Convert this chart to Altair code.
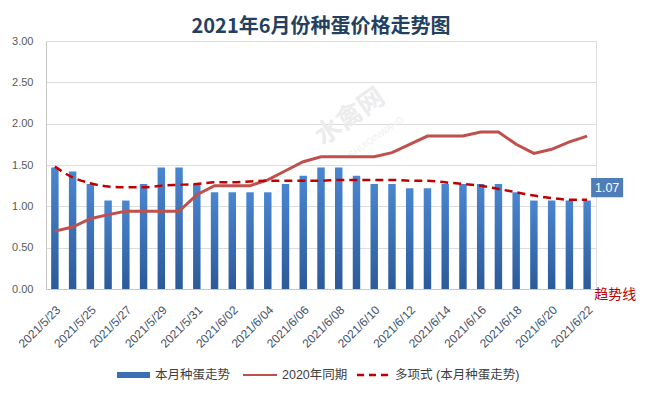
import altair as alt
import pandas as pd

dates = ["2021/5/23", "2021/5/24", "2021/5/25", "2021/5/26", "2021/5/27", "2021/5/28",
         "2021/5/29", "2021/5/30", "2021/5/31", "2021/6/01", "2021/6/02", "2021/6/03",
         "2021/6/04", "2021/6/05", "2021/6/06", "2021/6/07", "2021/6/08", "2021/6/09",
         "2021/6/10", "2021/6/11", "2021/6/12", "2021/6/13", "2021/6/14", "2021/6/15",
         "2021/6/16", "2021/6/17", "2021/6/18", "2021/6/19", "2021/6/20", "2021/6/21",
         "2021/6/22"]
price_2021 = [1.47, 1.42, 1.27, 1.07, 1.07, 1.27, 1.47, 1.47, 1.27, 1.17, 1.17, 1.17,
              1.17, 1.27, 1.37, 1.47, 1.47, 1.37, 1.27, 1.27, 1.22, 1.22, 1.27, 1.27,
              1.27, 1.27, 1.17, 1.07, 1.07, 1.07, 1.07]
price_2020 = [0.70, 0.75, 0.85, 0.90, 0.94, 0.94, 0.94, 0.94, 1.14, 1.25, 1.25, 1.25,
              1.32, 1.43, 1.54, 1.60, 1.60, 1.60, 1.60, 1.65, 1.75, 1.85, 1.85, 1.85,
              1.90, 1.90, 1.75, 1.64, 1.69, 1.78, 1.85]
trend = [1.48, 1.35, 1.28, 1.24, 1.23, 1.23, 1.25, 1.26, 1.27, 1.29, 1.29, 1.30,
         1.31, 1.31, 1.31, 1.31, 1.32, 1.32, 1.32, 1.32, 1.31, 1.31, 1.29, 1.27,
         1.25, 1.21, 1.17, 1.13, 1.10, 1.08, 1.08]
label_dates = dates[::2]
y_ticks = [0, 0.5, 1.0, 1.5, 2.0, 2.5, 3.0]
legend_names = ["本月种蛋走势", "2020年同期", "多项式 (本月种蛋走势)"]
title_text = "2021年6月份种蛋价格走势图"

df = pd.DataFrame({"date": dates, "price": price_2021, "last": price_2020, "trend": trend})
one = pd.DataFrame({"k": [0]})

LATIN = "Liberation Sans, Noto Sans CJK SC"
CJK = "Noto Sans CJK SC"

x = alt.X("date:N", sort=dates,
          scale=alt.Scale(paddingInner=0.58, paddingOuter=0.29),
          axis=alt.Axis(values=label_dates, labelAngle=-45, title=None, ticks=False,
                        labelPadding=15, labelFontSize=12, labelFont=LATIN,
                        labelColor="#44546a", domainColor="#c8c8c8", grid=False))
yscale = alt.Scale(domain=[0, 3])
yaxis = alt.Axis(values=y_ticks, format=".2f", title=None, ticks=False, labelPadding=13,
                 labelFontSize=11, labelFont=LATIN, labelColor="#595959",
                 domainColor="#c8c8c8", gridColor="#dcdcdc", gridWidth=1)

base = alt.Chart(df)

bars = base.mark_bar(
    color=alt.Gradient(gradient="linear",
                       stops=[alt.GradientStop(color="#4a86d0", offset=0),
                              alt.GradientStop(color="#2c5a9a", offset=1)],
                       x1=0, x2=0, y1=0, y2=1)
).encode(x=x, y=alt.Y("price:Q", scale=yscale, axis=yaxis))

line2020 = base.mark_line(color="#c0504d", strokeWidth=3).encode(
    x=x, y=alt.Y("last:Q", scale=yscale))

trendline = base.mark_line(color="#c00000", strokeWidth=2.5, strokeDash=[8, 5],
                           interpolate="monotone").encode(
    x=x, y=alt.Y("trend:Q", scale=yscale))

last = base.transform_filter(alt.datum.date == dates[-1])
box = last.mark_point(shape="M-1,-0.6H1V0.6H-1Z", size=1024, filled=True, opacity=1,
                      color="#4f7db8", xOffset=20, yOffset=-13).encode(
    x=x, y=alt.Y("price:Q", scale=yscale))
box_text = last.mark_text(color="white", fontSize=12.5, font=LATIN, dx=20, dy=-13,
                          align="center", baseline="middle").encode(
    x=x, y=alt.Y("price:Q", scale=yscale), text=alt.Text("price:Q", format=".2f"))
trend_lbl = last.mark_text(color="#c00000", fontSize=14, font=CJK, dx=49, dy=6,
                           align="right", baseline="middle").encode(
    x=x, y=alt.datum(0, scale=yscale), text=alt.value("趋势线"))

# watermark
wm1 = alt.Chart(one).mark_text(text="水禽网", fontSize=26, font=CJK, angle=325,
                               color="#ececec", fontWeight="bold").encode(
    x=alt.value(304), y=alt.value(76))
wm2 = alt.Chart(one).mark_text(text="SHUIQINWANG", fontSize=9, font=LATIN, angle=325,
                               color="#efefef").encode(
    x=alt.value(330), y=alt.value(96))

# legend
LY = 334
leg_rect = alt.Chart(one).mark_rect(color="#3a6fb5").encode(
    x=alt.value(71), x2=alt.value(104), y=alt.value(LY - 3), y2=alt.value(LY + 3))
leg_line = alt.Chart(one).mark_rule(color="#c0504d", strokeWidth=2).encode(
    x=alt.value(197), x2=alt.value(231), y=alt.value(LY))
leg_dash = alt.Chart(one).mark_rule(color="#c00000", strokeWidth=2.5, strokeDash=[7, 5]).encode(
    x=alt.value(311), x2=alt.value(346), y=alt.value(LY))
leg_t1 = alt.Chart(one).mark_text(text=legend_names[0], fontSize=12.5, font=LATIN,
                                  color="#404040", align="left", baseline="middle").encode(
    x=alt.value(109), y=alt.value(LY))
leg_t2 = alt.Chart(one).mark_text(text=legend_names[1], fontSize=12.5, font=LATIN,
                                  color="#404040", align="left", baseline="middle").encode(
    x=alt.value(236), y=alt.value(LY))
leg_t3 = alt.Chart(one).mark_text(text=legend_names[2], fontSize=12.5, font=LATIN,
                                  color="#404040", align="left", baseline="middle").encode(
    x=alt.value(349), y=alt.value(LY))

chart = alt.layer(
    wm1, wm2, bars, line2020, trendline, box, box_text, trend_lbl,
    leg_rect, leg_line, leg_dash, leg_t1, leg_t2, leg_t3
).properties(
    width=550, height=248,
    title=alt.TitleParams(title_text, fontSize=20, fontWeight="bold", color="#243f60",
                          font=CJK, anchor="middle", offset=5, dy=7),
    autosize=alt.AutoSizeParams(type="none"),
    padding={"left": 38, "top": 33, "right": 41, "bottom": 95},
).configure_view(strokeWidth=0).configure(background="white")

chart.save("out.html", embed_options={"renderer": "svg", "actions": False})
